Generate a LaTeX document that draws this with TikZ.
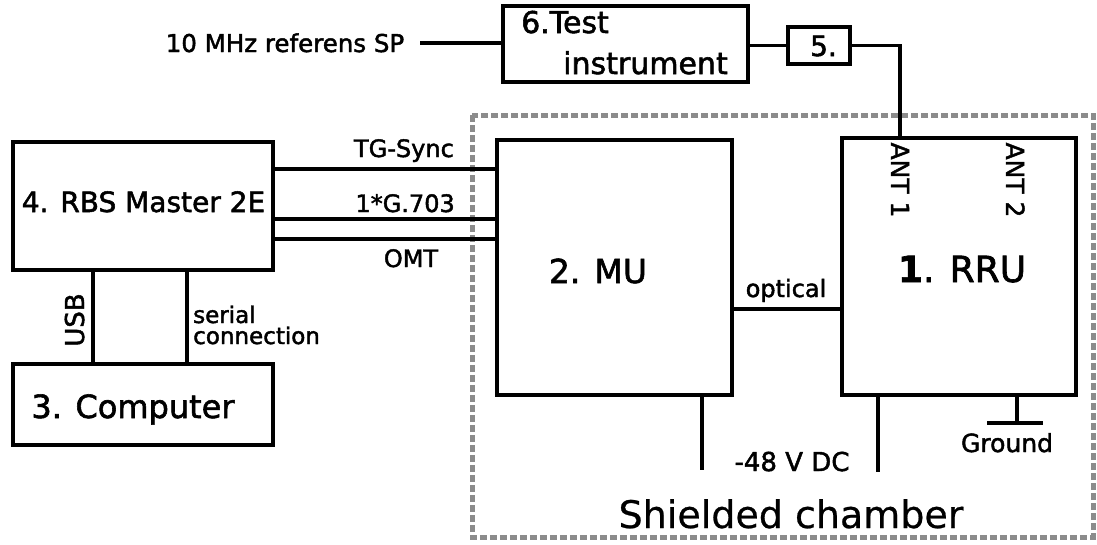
\documentclass[tikz,border=0pt]{standalone}
\usepackage{fontspec}
\setmainfont{DejaVu Sans}[FakeBold=1.8]
\newfontfamily\plainfont{DejaVu Sans}[FakeBold=0.6]
\begin{document}
\begin{tikzpicture}[x=1pt,y=-1pt,
  box/.style={draw, line width=3.2pt, inner sep=0, minimum width=#1},
  wire/.style={line width=3.2pt},
  lbl/.style={inner sep=0, anchor=base},
  rlbl/.style={inner sep=0, text height=18pt, text depth=0pt},
  fs/.style={font=\fontsize{#1}{#1}\selectfont},
  chamber/.style={draw=black!45, line width=5pt, dash pattern=on 7pt off 3pt}]
\useasboundingbox (0,0) rectangle (1097,544);
% shielded chamber
\draw[chamber] (472,115) rectangle (1093,537);
% boxes
\node[box=245pt, minimum height=76pt] (box6) at (625.5,44) {};
\node[box=62pt, minimum height=37pt] (box5) at (819,45.5) {};
\node[box=260pt, minimum height=128pt] (box4) at (143,206) {};
\node[box=260pt, minimum height=81pt] (comp) at (143,404.5) {};
\node[box=235pt, minimum height=255pt] (mu) at (614.5,267.5) {};
\node[box=234pt, minimum height=257pt] (rru) at (959,266.5) {};
% box labels
\node[lbl, fs=30, anchor=base west] (t6a) at (521,33) {6.Test};
\node[lbl, fs=30, anchor=base west] (t6b) at (563,74) {instrument};
\node[lbl, fs=28] (t5) at (823.5,56) {5.};
\node[lbl, fs=28] (t4) at (143.5,212) {4. RBS Master 2E};
\node[lbl, fs=32] (t3) at (133,418) {3. Computer};
\node[lbl, fs=33] (t2) at (598,283) {2. MU};
\node[lbl, fs=36] (t1) at (962,282) {\textbf{1}. RRU};
\node[rlbl, fs=25, rotate=-90] (ant1) at (900,180) {ANT 1};
\node[rlbl, fs=25, rotate=-90] (ant2) at (1015,180) {ANT 2};
% other labels
\node[lbl, fs=24.5] (t10) at (285,52) {10 MHz referens SP};
\node[lbl, fs=24, anchor=base east] (ltg) at (454,157) {TG-Sync};
\node[lbl, fs=24, anchor=base east] (lg) at (455,212) {1*G.703};
\node[lbl, fs=24] (lomt) at (411,267) {OMT};
\node[lbl, fs=24] (lopt) at (786,297) {optical};
\node[rlbl, fs=26, rotate=90] (lusb) at (75,320) {USB};
\node[lbl, fs=23, anchor=base west] (lser1) at (193,323) {serial};
\node[lbl, fs=23, anchor=base west] (lser2) at (193,344) {connection};
\node[lbl, fs=26] (ldc) at (792,471) {-48 V DC};
\node[lbl, fs=25] (lgnd) at (1007,452) {Ground};
\node[lbl, font=\plainfont\fontsize{38}{38}\selectfont] (lsh) at (791,528) {Shielded chamber};
% coordinates
\coordinate (c10) at (420,43);
\coordinate (xa1) at (900,0);
\coordinate (ytg) at (0,169);
\coordinate (yg) at (0,219);
\coordinate (yomt) at (0,239);
\coordinate (yopt) at (0,309);
\coordinate (xusb) at (93,0);
\coordinate (xser) at (187,0);
\coordinate (pmu) at (702,470);
\coordinate (prru) at (878,472);
\coordinate (gnd) at (1017,423);
\coordinate (gl) at (987,423);
\coordinate (gr) at (1043,423);
% connectors
\draw[wire] (c10) -- (c10 -| box6.west);
\draw[wire] (box5.west -| box6.east) -- (box5.west);
\draw[wire] (box5.east) -| (xa1 |- rru.north);
\draw[wire] (box4.east |- ytg) -- (mu.west |- ytg);
\draw[wire, line width=3.8pt] (box4.east |- yg) -- (mu.west |- yg);
\draw[wire] (box4.east |- yomt) -- (mu.west |- yomt);
\draw[wire] (xusb |- box4.south) -- (xusb |- comp.north);
\draw[wire] (xser |- box4.south) -- (xser |- comp.north);
\draw[wire] (mu.east |- yopt) -- (rru.west |- yopt);
\draw[wire] (pmu |- mu.south) -- (pmu);
\draw[wire] (prru |- rru.south) -- (prru);
\draw[wire] (gnd |- rru.south) -- (gnd);
\draw[wire] (gl) -- (gr);
\end{tikzpicture}
\end{document}
